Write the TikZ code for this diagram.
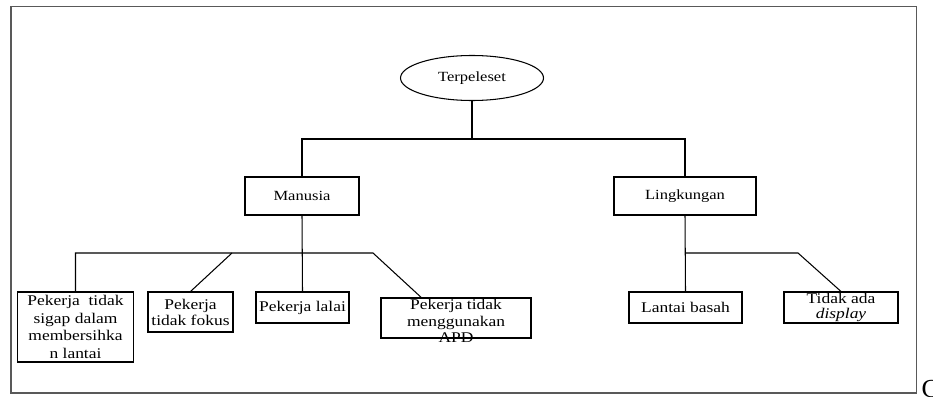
\documentclass[tikz,border=0pt]{standalone}
\usepackage{fontspec}
\setmainfont{Liberation Serif}
\newfontfamily\fa{Liberation Serif}[FakeStretch=1.18]
\usetikzlibrary{shapes.geometric,calc}
\begin{document}
\begin{tikzpicture}[x=1pt,y=-1pt,line width=1.05pt,
  box/.style={draw,rectangle,inner sep=0pt,align=center},
  topf/.style={font=\fa\fontsize{14}{16}\selectfont},
  lowf/.style={font=\fa\fontsize{14.8}{17.6}\selectfont},
  frame/.style={draw=black!65,line width=1.3pt}]
\useasboundingbox (0,0) rectangle (933,396);
\draw[frame] (11,6.5) rectangle (916.5,393);
% nodes
\node[ellipse,draw,minimum width=143pt,minimum height=45pt,inner sep=0pt,topf] (E) at (472,78) {Terpeleset};
\node[box,topf,minimum width=114pt,minimum height=38pt] (M) at (302,196) {Manusia};
\node[box,topf,minimum width=142pt,minimum height=38pt] (L) at (685,196) {Lingkungan};
\node[box,lowf,minimum width=116pt,minimum height=70pt] (b1) at (75.5,327) {Pekerja\ \ tidak\\sigap dalam\\membersihka\\n lantai};
\node[box,font=\fa\fontsize{14.8}{16}\selectfont,minimum width=85pt,minimum height=40pt] (b2) at (190.5,312) {Pekerja\\tidak fokus};
\node[box,lowf,minimum width=93pt,minimum height=31pt] (b3) at (302.5,307.5) {Pekerja lalai};
\node[box,minimum width=150pt,minimum height=40pt] (b4) at (456,318) {};
\node[align=center,inner sep=0pt,anchor=north,font=\fa\fontsize{14.8}{16.3}\selectfont] (t4) at ($(b4.north)+(0,1.5)$) {Pekerja tidak\\menggunakan\\APD};
\node[box,lowf,minimum width=113pt,minimum height=31pt] (b5) at (685.5,307.5) {Lantai basah};
\node[box,font=\fa\fontsize{14.8}{14.3}\selectfont,minimum width=114pt,minimum height=31pt] (b6) at (841,307.5) {Tidak ada\\\itshape display};
\node[anchor=base west,inner sep=0pt,font=\fontsize{26}{26}\selectfont] (cc) at (921,397) {C};
% junctions
\coordinate (j1) at (472,139);
\coordinate (h2r) at (373,253);
\coordinate (d2) at (232,253);
\coordinate (h3r) at (798,253);
\coordinate (b4t) at ($(b4.north west)!0.27!(b4.north east)$);
% connectors
\draw (E.south) -- (j1);
\draw (M.north) |- (j1) -| (L.north);
\draw (M.south) -- (b3.north);
\draw (b1.north) |- (h2r) -- (b4t);
\draw (d2) -- (b2.north);
\draw (L.south) -- (b5.north);
\draw (L.south |- h3r) -- (h3r) -- (b6.north);
\end{tikzpicture}
\end{document}
